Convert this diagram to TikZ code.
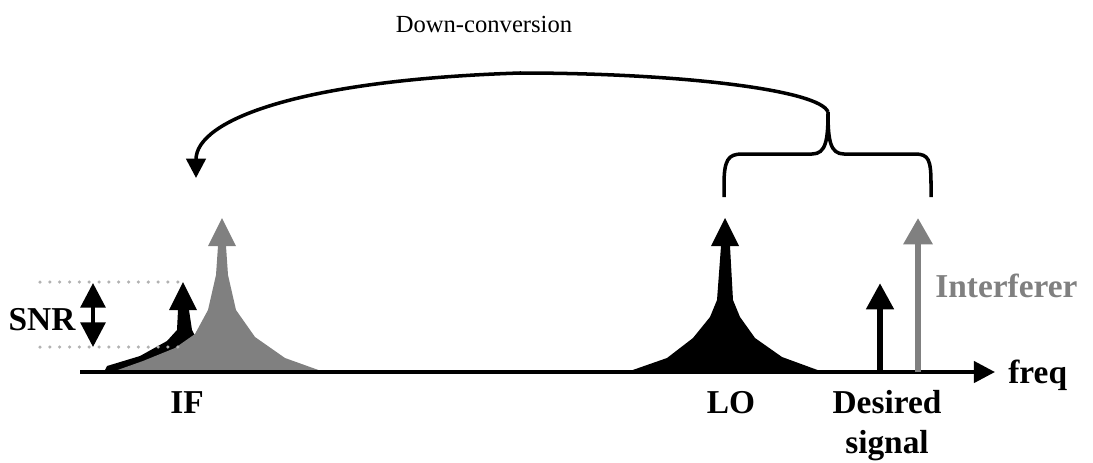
\documentclass[tikz,border=0pt]{standalone}
\usepackage{fontspec}
\setmainfont{Liberation Serif}
\usepackage{tikz}
\usetikzlibrary{arrows.meta}

\begin{document}
\begin{tikzpicture}[x=0.2mm, y=-0.2mm, every node/.style={font=\fontsize{19}{22.7}\selectfont\bfseries, inner sep=0pt}]
  \useasboundingbox (0,0) rectangle (1093,462);
  \fill[black] (105,370) -- (107,366) -- (140,356) -- (167,341) -- (177,330) -- (178,310) -- (189,310) -- (192,330) -- (200,345) -- (200,372) -- cycle;
  \fill[black] (169,310) -- (183,282) -- (197,310) -- cycle;
  \fill[gray] (112,372) -- (143,361) -- (175,348) -- (195,334) -- (208,310) -- (216,275) -- (218,246) -- (226,246) -- (228,275) -- (236,310) -- (255,337) -- (285,358) -- (324,372) -- cycle;
  \fill[gray] (208,246) -- (222,218) -- (236,246) -- cycle;
  \fill[black] (627,372) -- (667,358) -- (693,338) -- (710,317) -- (717,300) -- (721,246) -- (730,246) -- (733,300) -- (740,317) -- (755,338) -- (782,357) -- (823,372) -- cycle;
  \fill[black] (711,246) -- (725,218) -- (739,246) -- cycle;
  \draw[gray!60, line width=2pt, line cap=round, dash pattern=on 0pt off 5.6pt] (40,282) -- (180,282);
  \draw[gray!60, line width=2pt, line cap=round, dash pattern=on 0pt off 5.6pt] (40,347) -- (180,347);
  \coordinate (snrtop) at (93,283);
  \coordinate (snrbot) at (93,347);
  \draw[line width=2.3pt, {Triangle[width=14pt,length=14pt]}-{Triangle[width=14pt,length=14pt]}] (snrtop) -- (snrbot);
  \coordinate (axstart) at (80,372);
  \coordinate (axend) at (995,372);
  \draw[line width=2.3pt, -{Triangle[width=12pt,length=12pt]}] (axstart) -- (axend);
  \coordinate (desbase) at (880,372);
  \coordinate (destip) at (880,283);
  \draw[line width=3.8pt, -{Triangle[width=15pt,length=15pt]}] (desbase) -- (destip);
  \coordinate (intbase) at (918,372);
  \coordinate (inttip) at (918,218);
  \draw[gray, line width=3.4pt, -{Triangle[width=16pt,length=15pt]}] (intbase) -- (inttip);
  \coordinate (cusp) at (828,112);
  \coordinate (ifin) at (196,178);
  \draw[line width=2pt] (724,197) -- (724,185) .. controls (724,160) and (728,154) .. (742,154) -- (812,154) .. controls (826,154) and (828,140) .. (cusp) .. controls (828,140) and (830,154) .. (844,154) -- (915,154) .. controls (929,154) and (931,160) .. (931,185) -- (931,197);
  \draw[line width=2pt, -{Triangle[width=11pt,length=11pt]}] (cusp) .. controls (820,90) and (680,73) .. (520,73) .. controls (300,80) and (196,120) .. (ifin);
  \node[anchor=base] (down) at (484,32) {\fontsize{14}{16}\selectfont\mdseries Down-conversion};
  \node[anchor=base] (snr) at (42,330) {SNR};
  \node[anchor=base] (if) at (187,413) {IF};
  \node[anchor=base] (lo) at (731,413) {LO};
  \node[anchor=base, align=center] (des) at (887,453) {Desired\\signal};
  \node[anchor=base west, text=gray] (int) at (935,297) {Interferer};
  \node[anchor=base west] (freq) at (1008,383) {freq};
\end{tikzpicture}
\end{document}
